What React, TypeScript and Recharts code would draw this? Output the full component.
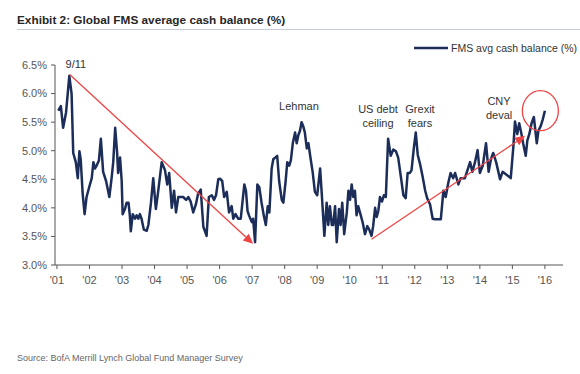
import React from 'react';
import { LineChart, Line, XAxis, YAxis, ReferenceLine, ReferenceDot, Legend } from 'recharts';

// Survey dates (decimal years) and FMS average cash balance (%)
const dates = [
  2001.04, 2001.12, 2001.19, 2001.28, 2001.38, 2001.45, 2001.50, 2001.58, 2001.64, 2001.69,
  2001.73, 2001.79, 2001.85, 2001.91, 2001.99, 2002.07, 2002.12, 2002.17, 2002.22, 2002.29,
  2002.35, 2002.42, 2002.51, 2002.61, 2002.68, 2002.73, 2002.79, 2002.85, 2002.88, 2002.94,
  2002.99, 2003.02, 2003.09, 2003.14, 2003.20, 2003.24, 2003.27, 2003.33, 2003.40, 2003.45,
  2003.50, 2003.55, 2003.60, 2003.67, 2003.76, 2003.81, 2003.89, 2003.96, 2004.04, 2004.11,
  2004.22, 2004.32, 2004.39, 2004.45, 2004.53, 2004.60, 2004.66, 2004.73, 2004.80, 2004.88,
  2004.97, 2005.04, 2005.11, 2005.19, 2005.27, 2005.34, 2005.42, 2005.50, 2005.60, 2005.67,
  2005.76, 2005.83, 2005.89, 2005.96, 2006.01, 2006.08, 2006.14, 2006.22, 2006.29, 2006.37,
  2006.42, 2006.49, 2006.57, 2006.65, 2006.71, 2006.76, 2006.81, 2006.86, 2006.91, 2006.99,
  2007.03, 2007.09, 2007.16, 2007.22, 2007.29, 2007.36, 2007.42, 2007.48, 2007.53, 2007.60,
  2007.65, 2007.71, 2007.77, 2007.83, 2007.91, 2007.96, 2008.03, 2008.08, 2008.14, 2008.19,
  2008.25, 2008.32, 2008.37, 2008.42, 2008.47, 2008.52, 2008.57, 2008.62, 2008.68, 2008.73,
  2008.80, 2008.86, 2008.93, 2009.00, 2009.09, 2009.14, 2009.22, 2009.29, 2009.34, 2009.39,
  2009.45, 2009.49, 2009.55, 2009.60, 2009.67, 2009.72, 2009.77, 2009.83, 2009.91, 2009.96,
  2010.01, 2010.06, 2010.11, 2010.16, 2010.21, 2010.26, 2010.34, 2010.40, 2010.47, 2010.54,
  2010.60, 2010.67, 2010.72, 2010.78, 2010.83, 2010.88, 2010.93, 2010.99, 2011.05, 2011.11,
  2011.18, 2011.26, 2011.34, 2011.42, 2011.49, 2011.57, 2011.65, 2011.72, 2011.78, 2011.85,
  2011.90, 2011.97, 2012.03, 2012.09, 2012.16, 2012.24, 2012.32, 2012.38, 2012.47, 2012.55,
  2012.62, 2012.70, 2012.80, 2012.88, 2012.95, 2013.03, 2013.10, 2013.18, 2013.24, 2013.34,
  2013.41, 2013.54, 2013.70, 2013.77, 2013.85, 2013.93, 2014.00, 2014.09, 2014.19, 2014.27,
  2014.34, 2014.41, 2014.50, 2014.57, 2014.62, 2014.70, 2014.82, 2014.95, 2015.03, 2015.08,
  2015.15, 2015.21, 2015.29, 2015.33, 2015.41, 2015.46, 2015.52, 2015.59, 2015.66, 2015.75,
  2015.80, 2015.87, 2015.93, 2016.00,
];

const cashBalance = [
  5.70, 5.78, 5.40, 5.67, 6.31, 6.00, 4.96, 4.80, 4.52, 4.99,
  4.85, 4.25, 3.89, 4.19, 4.36, 4.52, 4.80, 4.69, 4.74, 4.83,
  5.21, 4.63, 4.47, 4.19, 4.52, 4.80, 5.40, 4.96, 4.61, 4.88,
  4.47, 3.89, 3.98, 4.09, 4.09, 3.87, 3.59, 3.89, 3.81, 3.87,
  3.81, 3.89, 3.81, 3.62, 3.60, 3.70, 4.09, 4.52, 3.98, 4.28,
  4.80, 4.66, 4.41, 4.61, 4.00, 4.30, 3.92, 4.19, 4.19, 4.19,
  4.14, 4.19, 4.11, 3.92, 4.06, 4.25, 4.32, 3.67, 3.51, 4.19,
  4.22, 4.14, 4.22, 4.50, 4.51, 4.47, 4.19, 4.28, 3.92, 4.03,
  3.81, 3.89, 3.81, 3.81, 4.14, 4.41, 4.30, 3.94, 3.86, 3.75,
  3.81, 3.40, 4.41, 4.36, 4.09, 3.86, 3.70, 4.03, 3.92, 4.69,
  4.85, 4.88, 4.91, 4.47, 4.14, 4.09, 4.47, 4.80, 4.74, 4.83,
  5.13, 5.32, 5.13, 5.27, 5.35, 5.50, 5.43, 5.32, 5.04, 5.13,
  4.85, 4.63, 4.28, 4.22, 4.69, 4.25, 3.51, 4.09, 3.70, 4.03,
  3.70, 3.70, 4.03, 3.40, 3.98, 3.70, 4.09, 3.54, 3.92, 4.30,
  4.14, 4.41, 4.19, 4.30, 3.87, 4.03, 3.87, 3.74, 3.54, 3.68,
  3.62, 3.51, 3.68, 4.00, 3.84, 3.95, 4.19, 4.11, 4.22, 4.19,
  5.21, 4.91, 5.02, 4.99, 4.88, 4.55, 4.22, 4.17, 4.61, 4.61,
  4.66, 5.04, 5.32, 4.93, 4.77, 4.55, 4.30, 4.17, 4.06, 3.81,
  3.80, 3.80, 3.80, 4.30, 4.19, 4.44, 4.61, 4.52, 4.61, 4.41,
  4.52, 4.52, 4.80, 4.63, 4.80, 5.01, 4.61, 4.74, 5.13, 4.63,
  4.85, 4.96, 4.80, 4.63, 4.50, 4.63, 4.58, 4.52, 5.07, 5.51,
  5.29, 5.48, 5.26, 5.13, 4.91, 5.18, 5.29, 5.48, 5.59, 5.13,
  5.35, 5.43, 5.54, 5.70,
];

const yearTicks = [2001, 2002, 2003, 2004, 2005, 2006, 2007, 2008, 2009, 2010, 2011, 2012, 2013, 2014, 2015, 2016];
const yearLabels = ["'01", "'02", "'03", "'04", "'05", "'06", "'07", "'08", "'09", "'10", "'11", "'12", "'13", "'14", "'15", "'16"];
const pctTicks = [3.0, 3.5, 4.0, 4.5, 5.0, 5.5, 6.0, 6.5];

// Annotations: [label, date, value]
const annotations: [string, number, number][] = [
  ['9/11', 2001.58, 6.51],
  ['Lehman', 2008.44, 5.785],
  ['US debt', 2010.87, 5.735],
  ['ceiling', 2010.87, 5.49],
  ['Grexit', 2012.16, 5.735],
  ['fears', 2012.16, 5.49],
  ['CNY', 2014.59, 5.87],
  ['deval', 2014.59, 5.62],
];

// Trend arrows: [startDate, startValue, endDate, endValue]
const arrows: [number, number, number, number][] = [
  [2001.40, 6.33, 2007.03, 3.37],
  [2010.67, 3.45, 2015.39, 5.26],
];

const highlight = { date: 2015.86, value: 5.70 };

const data = dates.map((d, i) => ({ date: d, cash: cashBalance[i] }));

const RED = '#ef4444';
const NAVY = '#1b2d58';
const FONT = "'Liberation Sans', Arial, Helvetica, sans-serif";

const ArrowShape = (p: any) => {
  const { x1, y1, x2, y2 } = p;
  const dx = x2 - x1;
  const dy = y2 - y1;
  const len = Math.sqrt(dx * dx + dy * dy) || 1;
  const ux = dx / len;
  const uy = dy / len;
  const headLen = 10;
  const headW = 4.5;
  const bx = x2 - ux * headLen;
  const by = y2 - uy * headLen;
  const pts = `${x2},${y2} ${bx - uy * headW},${by + ux * headW} ${bx + uy * headW},${by - ux * headW}`;
  return (
    <g>
      <line x1={x1} y1={y1} x2={bx} y2={by} stroke={RED} strokeWidth={1.3} />
      <polygon points={pts} fill={RED} />
    </g>
  );
};

const LegendContent = () => (
  <div style={{ display: 'flex', alignItems: 'center', fontSize: 10.5, color: '#333', fontFamily: FONT, whiteSpace: 'nowrap' }}>
    <svg width={36} height={6} style={{ marginRight: 2 }}>
      <line x1={1} y1={3} x2={35} y2={3} stroke={NAVY} strokeWidth={2.5} />
    </svg>
    <span>FMS avg cash balance (%)</span>
  </div>
);

export default function App() {
  return (
    <div style={{ position: 'absolute', left: 0, top: 0, width: 580, height: 374, background: '#fff', fontFamily: FONT, overflow: 'hidden' }}>
      <div style={{ position: 'absolute', left: 17, top: 13, fontSize: 11.8, lineHeight: '14px', fontWeight: 700, color: '#262626', whiteSpace: 'nowrap' }}>
        Exhibit 2: Global FMS average cash balance (%)
      </div>
      <div style={{ position: 'absolute', left: 17, top: 29, width: 563, height: 0, borderTop: '1.5px solid #c5cdd9' }} />
      <div style={{ position: 'absolute', left: 0, top: 0 }}>
        <LineChart width={580} height={374} data={data} margin={{ top: 51, right: 17, bottom: 79, left: 8 }}>
          <XAxis
            dataKey="date"
            type="number"
            domain={[2000.94, 2016.556]}
            ticks={yearTicks}
            interval={0}
            tickFormatter={(v: number) => yearLabels[yearTicks.indexOf(v)] ?? ''}
            stroke="#555"
            tickSize={4}
            tickMargin={7}
            height={30}
            tick={{ fontSize: 11, fill: '#555' }}
          />
          <YAxis
            type="number"
            domain={[3, 6.5]}
            ticks={pctTicks}
            interval={0}
            tickFormatter={(v: number) => v.toFixed(1) + '%'}
            stroke="#555"
            tickSize={4}
            tickMargin={4}
            width={47}
            tick={{ fontSize: 11, fill: '#555' }}
          />
          <Legend
            verticalAlign="top"
            content={<LegendContent />}
            wrapperStyle={{ position: 'absolute', top: 42, left: 413, width: 170, height: 14 }}
          />
          <Line
            type="linear"
            dataKey="cash"
            stroke={NAVY}
            strokeWidth={2.5}
            dot={false}
            activeDot={false}
            isAnimationActive={false}
            strokeLinejoin="round"
          />
          {arrows.map((a, i) => (
            <ReferenceLine
              key={'arrow' + i}
              segment={[{ x: a[0], y: a[1] }, { x: a[2], y: a[3] }]}
              ifOverflow="visible"
              shape={ArrowShape}
            />
          ))}
          <ReferenceDot
            x={highlight.date}
            y={highlight.value}
            ifOverflow="visible"
            shape={(p: any) => (
              <ellipse cx={p.cx} cy={p.cy} rx={18} ry={20} fill="none" stroke={RED} strokeWidth={1.3} />
            )}
          />
          {annotations.map(([label, d, v]) => (
            <ReferenceDot
              key={label}
              x={d}
              y={v}
              ifOverflow="visible"
              shape={(p: any) => (
                <text x={p.cx} y={p.cy} textAnchor="middle" dominantBaseline="central" fontSize={11} fill="#333">
                  {label}
                </text>
              )}
            />
          ))}
        </LineChart>
      </div>
      <div style={{ position: 'absolute', left: 17, top: 352, fontSize: 9, lineHeight: '12px', color: '#666', whiteSpace: 'nowrap' }}>
        Source: BofA Merrill Lynch Global Fund Manager Survey
      </div>
    </div>
  );
}
